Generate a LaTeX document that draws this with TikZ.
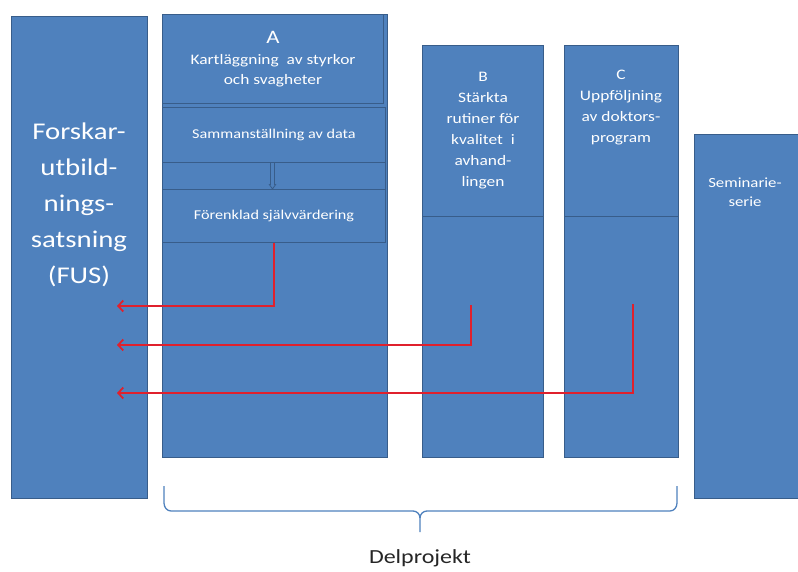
\documentclass[tikz,border=0pt]{standalone}
\usepackage{fontspec}
\setmainfont{Carlito}[FakeStretch=1.2]
\usetikzlibrary{arrows.meta}
\definecolor{boxblue}{HTML}{4F81BD}
\definecolor{boxline}{HTML}{385D8A}
\definecolor{linkred}{HTML}{E0202C}

\begin{document}
\begin{tikzpicture}[x=1pt,y=-1pt,
    box/.style={draw=boxline,fill=boxblue,line width=1pt,anchor=north west,inner sep=0pt,text=white,align=center},
    txt/.style={text=white,align=center,inner sep=0pt},
    link/.style={draw=linkred,line width=1.8pt,-{Straight Barb[length=5pt,width=11pt]}}]
\useasboundingbox (0,0) rectangle (798,572);
% FUS
\node [box,minimum width=136pt,minimum height=482pt] (fus) at (11,16) {};
\node [txt,font=\fontsize{24}{36}\selectfont] (fustxt) at (79,205) {Forskar-\\utbild-\\nings-\\satsning\\(FUS)};
% delprojekt A
\node [box,minimum width=225pt,minimum height=443pt] (a) at (162,14) {};
\node [box,minimum width=221pt,minimum height=89pt,font=\fontsize{14.5}{20}\selectfont] (atitle) at (162,14)
    {{\fontsize{19}{22}\selectfont A}\\[1pt]Kartläggning~ av styrkor\\och svagheter};
\node [box,minimum width=223pt,minimum height=55pt,font=\fontsize{13.5}{16}\selectfont] (sam) at (162,107) {Sammanställning av data};
\node [box,minimum width=223pt,minimum height=27pt] (strip) at (162,162) {};
\node [box,minimum width=223pt,minimum height=53pt,font=\fontsize{13.5}{16}\selectfont] (fv) at (162,189) {Förenklad självvärdering};
% dubbelpil
\draw [boxline,line width=0.8pt] ([xshift=-3.5pt]sam.south) -- ([xshift=-3.5pt,yshift=4pt]fv.north)
    ([xshift=0.5pt]sam.south) -- ([xshift=0.5pt,yshift=4pt]fv.north)
    ([xshift=-5pt,yshift=5pt]fv.north) -- ([xshift=-1.5pt]fv.north) -- ([xshift=2pt,yshift=5pt]fv.north);
% delprojekt B
\node [box,minimum width=121pt,minimum height=171pt,font=\fontsize{14.5}{21}\selectfont] (btop) at (422,45)
    {B\\Stärkta\\rutiner för\\kvalitet~ i\\avhand-\\lingen};
\node [box,minimum width=121pt,minimum height=241pt] (bbot) at (422,216) {};
% delprojekt C
\node [box,minimum width=114pt,minimum height=171pt] (ctop) at (564,45) {};
\node [box,minimum width=114pt,minimum height=241pt] (cbot) at (564,216) {};
\node [txt,anchor=north,font=\fontsize{14.5}{21}\selectfont] (ctxt) at (621,70) {C\\Uppföljning\\av doktors-\\program};
% seminarieserie
\node [box,minimum width=115pt,minimum height=364pt] (sem) at (694,134) {};
\node [txt,font=\fontsize{14}{19}\selectfont] (semtxt) at (745,192) {Seminarie-\\serie};
% pilar till FUS
\coordinate (in1) at (117,306);
\coordinate (in2) at (117,345);
\coordinate (in3) at (117,393);
\coordinate (out2) at (471,305);
\coordinate (out3) at (633,304);
\draw [link] (fv.south) |- (in1);
\draw [link] (out2) |- (in2);
\draw [link] (out3) |- (in3);
% klammer
\draw [boxblue,line width=1.3pt] (164,486) -- (164,503) to[out=-90,in=180] (171,511) -- (413,511) to[out=0,in=90] (420,518) -- (420,532);
\draw [boxblue,line width=1.3pt] (677,486) -- (677,503) to[out=-90,in=0] (670,511) -- (427,511) to[out=180,in=90] (420,518);
\node [font=\fontsize{20}{24}\selectfont,text=black!85] (delprojekt) at (420,558) {Delprojekt};
\end{tikzpicture}
\end{document}
